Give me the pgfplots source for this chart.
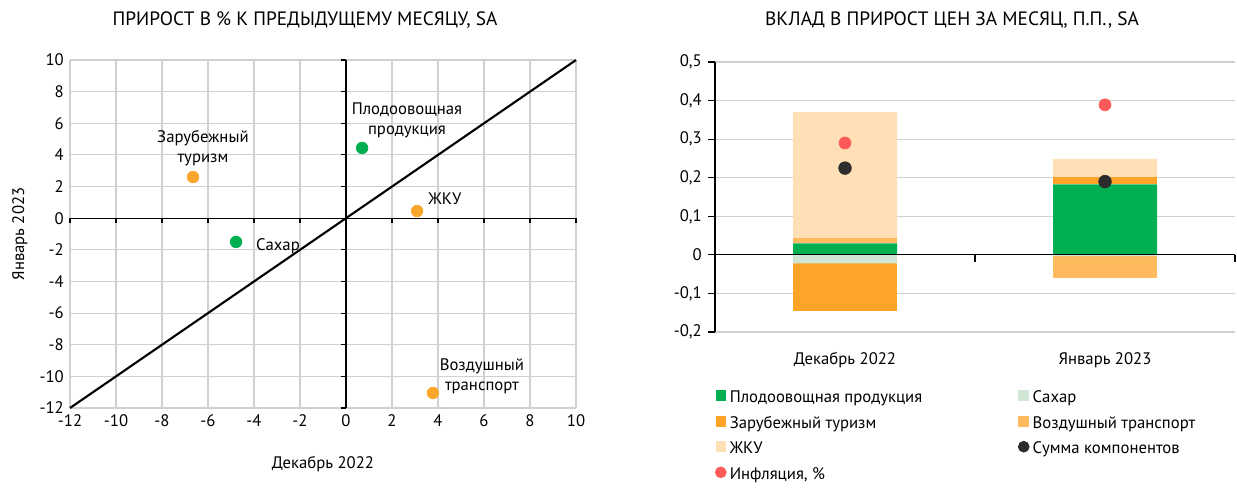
\documentclass[border=0pt]{standalone}
\usepackage{pgfplots}
\pgfplotsset{compat=1.18}
\usepackage{pgfplotstable}
\usepackage{fontspec}
\setmainfont{PT Sans}

\definecolor{cgreen}{RGB}{0,176,80}
\definecolor{corange}{RGB}{250,166,42}
\definecolor{csugar}{RGB}{210,230,214}
\definecolor{ctour}{RGB}{255,163,41}
\definecolor{cair}{RGB}{255,186,94}
\definecolor{cutil}{RGB}{255,223,181}
\definecolor{csum}{RGB}{45,45,45}
\definecolor{cinfl}{RGB}{255,90,90}
\definecolor{cgrid}{RGB}{208,208,208}

% positive parts of the contributions, p.p.
\pgfplotstableread{
x  fruit  tour   air    util
0  0.030  0.000  0.013  0.327
1  0.183  0.018  0.000  0.048
}\pospart
% negative parts
\pgfplotstableread{
x  sugar   tour    air
0  -0.022  -0.123  0.000
1  -0.003  0.000   -0.056
}\negpart

\begin{document}
\begin{tikzpicture}[font=\fontsize{9.5}{11.5}\selectfont]
\path (0,0) rectangle (24.74cm,-9.78cm);

\node at (6.1cm,-0.4cm) {\fontsize{11}{13}\selectfont ПРИРОСТ В \% К ПРЕДЫДУЩЕМУ МЕСЯЦУ, SA};
\node at (19.04cm,-0.4cm) {\fontsize{11}{13}\selectfont ВКЛАД В ПРИРОСТ ЦЕН ЗА МЕСЯЦ, П.П., SA};

% ---- left: scatter
\begin{axis}[
    at={(1.4cm,-8.16cm)}, anchor=south west,
    scale only axis, width=10.12cm, height=6.96cm,
    xmin=-12, xmax=10, ymin=-12, ymax=10,
    xtick distance=2, ytick distance=2,
    grid=major, grid style={cgrid, line width=0.6pt},
    axis line style={draw=none},
    major tick length=0pt,
    tick label style={font=\fontsize{9.5}{11.5}\selectfont},
    label style={font=\fontsize{9.5}{11.5}\selectfont},
    /pgf/number format/assume math mode=true,
    xlabel={Декабрь 2022}, ylabel={Январь 2023},
    xlabel style={yshift=-10pt},
    ylabel style={yshift=0pt},
    clip=false,
]
\draw[black, line width=0.6pt] (axis cs:0,-12) -- (axis cs:0,10);
\draw[black, line width=0.6pt] (axis cs:-12,0) -- (axis cs:10,0);
\pgfplotsinvokeforeach{-12,-10,...,10}{
  \draw[black, line width=0.6pt] (axis cs:0,#1) -- ++(-3pt,0pt);
  \draw[black, line width=0.6pt] (axis cs:#1,0) -- ++(0pt,-3pt);
}
\addplot[black, line width=1.2pt] coordinates {(-12,-12) (10,10)};
\addplot[only marks, mark=*, mark size=3.3pt, cgreen] coordinates {(0.7,4.44) (-4.78,-1.5)};
\addplot[only marks, mark=*, mark size=3.3pt, corange] coordinates {(-6.65,2.6) (3.09,0.45) (3.78,-11.05)};
\node[align=center] at (axis cs:2.65,6.2) {Плодоовощная\\продукция};
\node[align=center] at (axis cs:-6.22,4.44) {Зарубежный\\туризм};
\node at (axis cs:-2.96,-1.76) {Сахар};
\node at (axis cs:4.3,1.21) {ЖКУ};
\node[align=center] at (axis cs:5.91,-9.97) {Воздушный\\транспорт};
\end{axis}

% ---- right: contributions, positive stack + legend
\begin{axis}[
    at={(14.3cm,-6.64cm)}, anchor=south west,
    scale only axis, width=10.4cm, height=5.4cm,
    ybar stacked, bar width=2.08cm,
    xmin=-0.5, xmax=1.5, ymin=-0.2, ymax=0.5,
    xtick={0,1}, xticklabels={Декабрь 2022, Январь 2023},
    ytick distance=0.1,
    ymajorgrids, grid style={cgrid, line width=0.6pt},
    axis x line*=bottom, x axis line style={draw=none},
    axis y line*=left, y axis line style={black, line width=0.6pt},
    xtick style={draw=none},
    ytick style={black, line width=0.6pt},
    tick align=outside, major tick length=4pt,
    tick label style={font=\fontsize{9.5}{11.5}\selectfont},
    /pgf/number format/assume math mode=true,
    /pgf/number format/use comma, /pgf/number format/fixed,
    xticklabel style={yshift=-4pt},
    legend columns=2,
    legend cell align=left,
    legend image post style={yshift=-4.5pt},
    legend style={draw=none, at={(0,-0.19)}, anchor=north west,
        xshift=-3pt, row sep=2.3pt,
        font=\fontsize{9.5}{11.5}\selectfont,
        /tikz/every even column/.append style={column sep=1.85cm}},
]
\addplot[fill=cgreen, draw=none, forget plot] table[x=x, y=fruit] {\pospart};
\addplot[fill=ctour, draw=none, forget plot] table[x=x, y=tour] {\pospart};
\addplot[fill=cair, draw=none, forget plot] table[x=x, y=air] {\pospart};
\addplot[fill=cutil, draw=none, forget plot] table[x=x, y=util] {\pospart};
\addlegendimage{only marks, mark=square*, mark size=2.8pt, cgreen}
\addlegendentry{Плодоовощная продукция}
\addlegendimage{only marks, mark=square*, mark size=2.8pt, csugar}
\addlegendentry{Сахар}
\addlegendimage{only marks, mark=square*, mark size=2.8pt, ctour}
\addlegendentry{Зарубежный туризм}
\addlegendimage{only marks, mark=square*, mark size=2.8pt, cair}
\addlegendentry{Воздушный транспорт}
\addlegendimage{only marks, mark=square*, mark size=2.8pt, cutil}
\addlegendentry{ЖКУ}
\addlegendimage{only marks, mark=*, mark size=3.1pt, csum}
\addlegendentry{Сумма компонентов}
\addlegendimage{only marks, mark=*, mark size=3.1pt, cinfl}
\addlegendentry{Инфляция, \%}
\end{axis}

% negative stack
\begin{axis}[
    at={(14.3cm,-6.64cm)}, anchor=south west,
    scale only axis, width=10.4cm, height=5.4cm,
    ybar stacked, bar width=2.08cm,
    xmin=-0.5, xmax=1.5, ymin=-0.2, ymax=0.5,
    hide axis,
]
\addplot[fill=csugar, draw=none] table[x=x, y=sugar] {\negpart};
\addplot[fill=ctour, draw=none] table[x=x, y=tour] {\negpart};
\addplot[fill=cair, draw=none] table[x=x, y=air] {\negpart};
\end{axis}

% dots and zero line
\begin{axis}[
    at={(14.3cm,-6.64cm)}, anchor=south west,
    scale only axis, width=10.4cm, height=5.4cm,
    xmin=-0.5, xmax=1.5, ymin=-0.2, ymax=0.5,
    hide axis, clip=false,
]
\draw[black, line width=0.7pt] (axis cs:-0.5,0) -- (axis cs:1.5,0);
\draw[black, line width=0.6pt] (axis cs:0.5,0) -- ++(0pt,-4pt);
\draw[black, line width=0.6pt] (axis cs:1.5,0) -- ++(0pt,-4pt);
\addplot[only marks, mark=*, mark size=3.4pt, cinfl] coordinates {(0,0.29) (1,0.389)};
\addplot[only marks, mark=*, mark size=3.6pt, csum] coordinates {(0,0.225) (1,0.19)};
\end{axis}
\end{tikzpicture}
\end{document}
